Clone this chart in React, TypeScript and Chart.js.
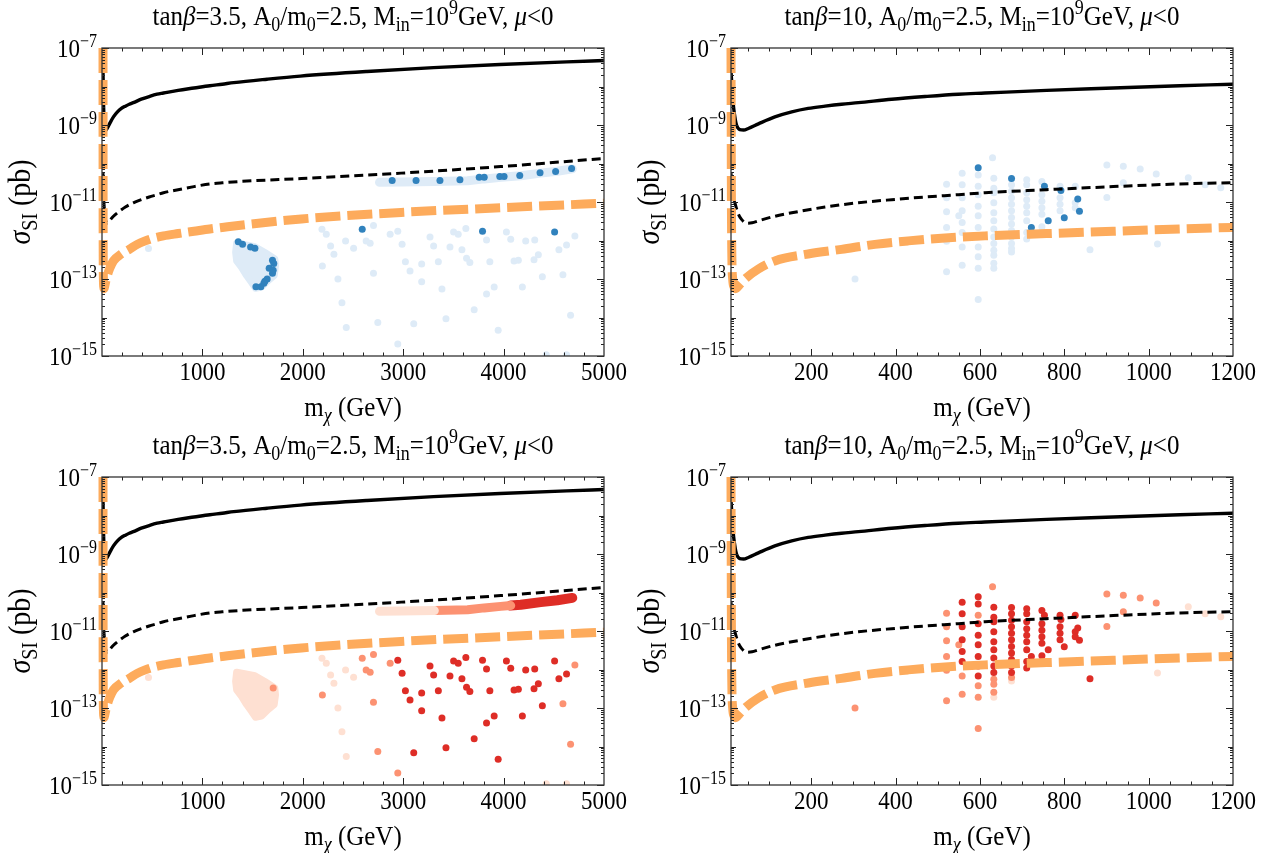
import React, { useEffect, useRef } from 'react';
import { Chart, registerables } from 'chart.js';

Chart.register(...registerables);

const SERIF = '"Liberation Serif", "Times New Roman", serif';
const TEXT_STRETCH = 1.13;

type Pt = [number, number];
// [mass (GeV), log10 sigma (pb), blue level (0 light, 1 dark), red level (0 pale, 1 medium, 2 dark)]
type ScanPt = [number, number, number, number];

// ---------- limit curves: [m_chi (GeV), log10 sigma_SI (pb)] ----------
const currentLimit: Pt[] = [
  [10, -7.62], [13, -8.1], [16, -8.53], [20, -8.85], [23, -9.0], [31, -9.12], [40, -9.13], [51, -9.09],
  [75, -8.97], [114, -8.79], [154, -8.66], [193, -8.57], [233, -8.51], [272, -8.46], [312, -8.42],
  [391, -8.33], [470, -8.26], [549, -8.2], [612, -8.17], [758, -8.1], [916, -8.04], [1074, -7.98],
  [1198, -7.94], [1312, -7.9], [1644, -7.81], [1975, -7.73], [2639, -7.61], [3302, -7.51], [3965, -7.43],
  [4629, -7.36], [5000, -7.325],
];

const projectedLimit: Pt[] = [
  [10, -10.25], [14, -10.8], [20, -11.05], [27, -11.3], [35, -11.45], [47, -11.55], [60, -11.54],
  [75, -11.49], [114, -11.37], [154, -11.28], [233, -11.13], [312, -11.02], [391, -10.94], [470, -10.87],
  [549, -10.81], [612, -10.76], [758, -10.68], [916, -10.6], [1074, -10.53], [1198, -10.5], [1490, -10.45],
  [1986, -10.39], [2979, -10.25], [3972, -10.08], [5000, -9.87],
];

const neutrinoFloor: Pt[] = [
  [10, -7.0], [10.5, -9], [11, -11], [12, -12.4], [14, -13.0], [17, -13.2], [21, -13.25], [30, -13.15],
  [43, -13.0], [75, -12.74], [114, -12.53], [193, -12.35], [272, -12.23], [351, -12.1], [430, -12.01],
  [509, -11.94], [612, -11.88], [758, -11.82], [916, -11.76], [1074, -11.7], [1198, -11.66], [1490, -11.57],
  [1986, -11.44], [2979, -11.27], [3972, -11.15], [5000, -11.03],
];

// ---------- tan(beta)=3.5 scan ----------
const bandA: Pt[] = [
  [2764, -10.49], [2979, -10.48], [3310, -10.47], [3641, -10.45], [3807, -10.4], [3972, -10.36],
  [4071, -10.34], [4171, -10.32], [4369, -10.25], [4535, -10.2], [4684, -10.14],
];
const bandARedBreaks = [3310, 4071];
const bandADark: Pt[] = [
  [2890, -10.44], [3128, -10.44], [3366, -10.44], [3565, -10.42], [3757, -10.36], [3807, -10.36],
  [3962, -10.34], [4005, -10.34], [4161, -10.31], [4363, -10.24], [4518, -10.21], [4677, -10.13],
];
const blobA: Pt[] = [
  [1341, -12.07], [1407, -12.1], [1523, -12.16], [1622, -12.31], [1721, -12.48], [1728, -12.66],
  [1715, -12.91], [1655, -13.04], [1589, -13.21], [1529, -13.24], [1490, -13.09], [1440, -12.91],
  [1390, -12.7], [1341, -12.53], [1331, -12.31], [1341, -12.07],
];
const blobADark: Pt[] = [
  [1357, -12.03], [1400, -12.1], [1480, -12.17], [1523, -12.2], [1698, -12.51], [1711, -12.6],
  [1665, -12.72], [1705, -12.77], [1698, -12.85], [1645, -13.0], [1622, -13.06], [1612, -13.11],
  [1582, -13.2], [1533, -13.2],
];
const blobARedMedium: Pt[] = [[1705, -12.48]];

const scanA: ScanPt[] = [
  [463, -12.21, 0, 0], [2191, -11.71, 0, 0], [2234, -11.84, 0, 0], [2277, -12.14, 0, 0], [2310, -12.36, 0, 0],
  [2195, -12.66, 0, 1], [2350, -13.0, 0, 0], [2390, -13.62, 0, 0], [2433, -14.26, 0, 0], [2426, -12.01, 0, 0],
  [2506, -12.2, 0, 0], [2592, -11.71, 1, 1], [2631, -12.01, 0, 1], [2671, -12.07, 0, 1], [2704, -11.61, 0, 1],
  [2704, -12.85, 0, 1], [2747, -14.13, 0, 1], [2870, -11.84, 0, 1], [2946, -11.76, 0, 2], [2989, -12.1, 0, 2],
  [2946, -14.69, 0, 1], [3022, -12.55, 0, 2], [3068, -12.79, 0, 2], [3105, -14.16, 0, 2], [3184, -12.61, 0, 2],
  [3184, -13.07, 0, 2], [3267, -11.91, 0, 2], [3303, -12.14, 0, 2], [3350, -12.55, 0, 2], [3386, -13.26, 0, 2],
  [3426, -14.03, 0, 2], [3466, -12.17, 0, 2], [3502, -11.78, 0, 2], [3548, -11.84, 0, 2], [3585, -12.24, 0, 2],
  [3624, -11.69, 0, 2], [3631, -12.46, 0, 2], [3664, -12.57, 0, 2], [3707, -13.8, 0, 2], [3790, -11.76, 1, 2],
  [3830, -11.99, 0, 2], [3830, -13.39, 0, 2], [3863, -12.55, 0, 2], [3906, -13.21, 0, 2], [3946, -14.33, 0, 2],
  [4028, -11.78, 0, 2], [4071, -11.97, 0, 2], [4104, -12.53, 0, 2], [4147, -12.51, 0, 2], [4187, -13.21, 0, 2],
  [4220, -12.01, 0, 2], [4310, -11.99, 0, 2], [4303, -12.5, 0, 2], [4346, -12.37, 0, 2], [4386, -12.94, 0, 2],
  [4508, -11.78, 1, 2], [4551, -12.24, 0, 2], [4591, -12.89, 0, 1], [4627, -12.12, 0, 2], [4667, -13.94, 0, 1],
  [4710, -11.88, 0, 1], [4425, -14.97, 0, 0], [4627, -14.97, 0, 0],
];

// ---------- tan(beta)=10 scan ----------
const scanB: ScanPt[] = [
  [521, -10.54, 0, 1], [521, -10.89, 0, 1], [521, -11.25, 0, 1], [521, -11.66, 0, 1], [521, -12.02, 0, 1], [521, -12.81, 0, 1],
  [558, -10.25, 0, 2], [558, -10.55, 0, 2], [558, -10.89, 0, 2], [558, -11.23, 0, 2], [558, -11.53, 0, 2], [558, -11.79, 0, 2],
  [550, -11.36, 0, 1], [558, -12.17, 0, 1], [558, -12.64, 0, 1],
  [596, -10.11, 1, 2], [596, -10.3, 0, 2], [596, -10.81, 0, 2], [596, -11.11, 0, 2], [596, -11.36, 0, 2], [596, -11.66, 0, 2],
  [596, -11.91, 0, 2], [596, -12.17, 0, 2], [596, -10.59, 0, 1], [596, -12.42, 0, 1], [596, -12.72, 0, 1], [596, -13.53, 0, 1],
  [630, -9.85, 0, 1], [633, -10.38, 0, 2], [633, -10.64, 0, 2], [633, -10.76, 0, 2], [633, -11.02, 0, 2], [633, -11.28, 0, 2],
  [633, -11.49, 0, 2], [633, -11.7, 0, 2], [633, -11.91, 0, 2], [633, -12.08, 0, 2], [633, -12.25, 0, 1], [633, -12.38, 0, 1],
  [633, -12.59, 0, 1], [633, -12.72, 0, 0],
  [675, -10.39, 1, 2], [675, -10.55, 0, 2], [675, -10.72, 0, 2], [675, -10.89, 0, 2], [675, -11.06, 0, 2], [675, -11.23, 0, 2],
  [675, -11.4, 0, 2], [675, -11.57, 0, 2], [675, -11.74, 0, 2], [675, -11.91, 0, 2], [675, -12.08, 0, 2], [675, -12.21, 0, 1],
  [675, -12.3, 0, 0],
  [711, -10.42, 0, 2], [711, -10.55, 0, 2], [711, -10.76, 0, 2], [711, -10.94, 0, 2], [711, -11.11, 0, 2], [711, -11.28, 0, 2],
  [711, -11.49, 0, 2], [722, -11.66, 1, 2], [711, -11.79, 0, 2], [711, -11.96, 0, 2],
  [747, -10.47, 0, 2], [753, -10.59, 1, 2], [747, -10.81, 0, 2], [747, -10.98, 0, 2], [747, -11.15, 0, 2], [747, -11.32, 0, 2],
  [762, -11.49, 1, 2], [747, -11.64, 0, 2],
  [790, -10.59, 0, 2], [792, -10.7, 1, 2], [790, -10.89, 0, 2], [790, -11.06, 0, 2], [790, -11.23, 0, 2], [800, -11.41, 1, 2],
  [826, -10.59, 0, 2], [832, -10.92, 1, 2], [826, -11.02, 0, 2], [836, -11.24, 1, 2], [826, -11.15, 0, 2],
  [304, -13.0, 0, 1], [861, -12.24, 0, 2], [901, -10.04, 0, 1], [901, -10.88, 0, 1], [940, -10.07, 0, 1], [940, -10.5, 0, 1],
  [980, -10.14, 0, 1], [1018, -10.27, 0, 1], [1021, -12.09, 0, 0], [1094, -10.37, 0, 0], [1134, -10.55, 0, 0], [1171, -10.63, 0, 0],
];

// ---------- axes ----------
const X_MAJOR_A = [1000, 2000, 3000, 4000, 5000];
const X_MAJOR_B = [200, 400, 600, 800, 1000, 1200];
const Y_LABEL_EXP = [-7, -9, -11, -13, -15];

const BLUE_LEVELS = ['#deebf7', '#3182bd'];
const RED_LEVELS = ['#fee0d2', '#fc9272', '#de2d26'];
const ORANGE = '#fdab5c';

type Part = { t: string; it?: boolean; sub?: boolean; sup?: boolean };

const titleFor = (tanb: string): Part[] => [
  { t: 'tan' }, { t: 'β', it: true }, { t: '=' + tanb + ', A' }, { t: '0', sub: true }, { t: '/m' },
  { t: '0', sub: true }, { t: '=2.5, M' }, { t: 'in', sub: true }, { t: '=10' }, { t: '9', sup: true },
  { t: 'GeV, ' }, { t: 'μ', it: true }, { t: '<0' },
];
const X_TITLE: Part[] = [{ t: 'm' }, { t: 'χ', it: true, sub: true }, { t: ' (GeV)' }];
const Y_TITLE: Part[] = [{ t: 'σ', it: true }, { t: 'SI', sub: true }, { t: ' (pb)' }];

function drawRich(ctx: CanvasRenderingContext2D, parts: Part[], x: number, y: number, size: number, align: string) {
  const fontFor = (p: Part) =>
    `${p.it ? 'italic ' : ''}${p.sub || p.sup ? Math.round(size * 0.7) : size}px ${SERIF}`;
  let w = 0;
  const ws = parts.map((p) => {
    ctx.font = fontFor(p);
    const m = ctx.measureText(p.t).width;
    w += m;
    return m;
  });
  let cx = align === 'center' ? -w / 2 : align === 'right' ? -w : 0;
  ctx.save();
  ctx.translate(x, y);
  ctx.scale(1, TEXT_STRETCH);
  ctx.textAlign = 'left';
  ctx.textBaseline = 'alphabetic';
  parts.forEach((p, i) => {
    ctx.font = fontFor(p);
    const dy = p.sub ? size * 0.22 : p.sup ? -size * 0.4 : 0;
    ctx.fillText(p.t, cx, dy);
    cx += ws[i];
  });
  ctx.restore();
}

type PanelCfg = {
  kind: 'A' | 'B';
  palette: 'blue' | 'red';
  left: number; top: number; w: number; h: number;
  pad: { left: number; right: number; top: number; bottom: number };
  xMin: number; xMax: number; xMajor: number[]; xMinorStep: number;
  title: Part[];
};

const toXY = (a: Pt[]) => a.map(([m, l]) => ({ x: m, y: Math.pow(10, l) }));

function buildDatasets(p: PanelCfg) {
  const levels = p.palette === 'blue' ? BLUE_LEVELS : RED_LEVELS;
  const ds: any[] = [];
  const line = (data: Pt[], color: string, width: number, dash: number[], order: number, extra: any = {}) => ({
    type: 'line', data: toXY(data), borderColor: color, backgroundColor: color, borderWidth: width,
    borderDash: dash, pointRadius: 0, pointHoverRadius: 0, fill: false, order,
    cubicInterpolationMode: 'monotone', ...extra,
  });
  const dots = (data: Pt[], color: string, order: number) => ({
    type: 'scatter', data: toXY(data), backgroundColor: color, borderWidth: 0,
    pointRadius: 3.5, pointHoverRadius: 3.5, order,
  });

  ds.push(line(neutrinoFloor, ORANGE, 9, [25, 7], 0, { clip: { left: 6, top: 0, right: 0, bottom: 0 } }));
  ds.push(line(projectedLimit, '#000', 3, [9, 5], 0));
  ds.push(line(currentLimit, '#000', 3.4, [], 0));

  const scan = p.kind === 'A' ? scanA : scanB;
  levels.forEach((c, i) => {
    const pts = scan.filter((s) => (p.palette === 'blue' ? s[2] : s[3]) === i).map((s) => [s[0], s[1]] as Pt);
    ds.push(dots(pts, c, levels.length - i));
  });

  if (p.kind === 'A') {
    const flat = { cubicInterpolationMode: 'default', tension: 0, borderCapStyle: 'round', borderJoinStyle: 'round' };
    if (p.palette === 'blue') {
      ds.push(line(bandA, levels[0], 9, [], 5, flat));
      ds.push(line(blobA, levels[0], 7, [], 5, { ...flat, fill: 'shape' }));
      ds.push(dots(bandADark, levels[1], 1));
      ds.push(dots(blobADark, levels[1], 1));
    } else {
      const [b1, b2] = bandARedBreaks;
      ds.push(line(bandA.filter((q) => q[0] <= b1), levels[0], 9, [], 5, flat));
      ds.push(line(bandA.filter((q) => q[0] >= b1 && q[0] <= b2), levels[1], 9, [], 5, flat));
      ds.push(line(bandA.filter((q) => q[0] >= b2), levels[2], 10, [], 5, flat));
      ds.push(line(blobA, levels[0], 7, [], 5, { ...flat, fill: 'shape' }));
      ds.push(dots(blobARedMedium, levels[1], 2));
    }
  }
  return ds;
}

function decor(p: PanelCfg) {
  return {
    id: 'decor' + p.kind + p.palette,
    afterDraw(chart: any) {
      const { ctx, chartArea: a, scales } = chart;
      const xs = scales.x;
      const ys = scales.y;
      ctx.save();
      ctx.strokeStyle = '#222';
      ctx.lineWidth = 1;
      const seg = (x1: number, y1: number, x2: number, y2: number) => {
        ctx.beginPath(); ctx.moveTo(x1, y1); ctx.lineTo(x2, y2); ctx.stroke();
      };
      // x ticks
      for (let v = p.xMinorStep; v < p.xMax; v += p.xMinorStep) {
        if (v < p.xMin) continue;
        const major = p.xMajor.includes(v);
        const len = major ? 7 : 3.5;
        const px = Math.round(xs.getPixelForValue(v)) + 0.5;
        seg(px, a.bottom, px, a.bottom - len);
        seg(px, a.top, px, a.top + len);
      }
      // y ticks
      for (let e = -15; e <= -7; e++) {
        const py = Math.round(ys.getPixelForValue(Math.pow(10, e))) + 0.5;
        const len = Y_LABEL_EXP.includes(e) ? 7 : 5;
        seg(a.left, py, a.left + len, py);
        seg(a.right, py, a.right - len, py);
        if (e < -7) {
          for (let k = 2; k <= 9; k++) {
            const pm = Math.round(ys.getPixelForValue(k * Math.pow(10, e))) + 0.5;
            seg(a.left, pm, a.left + 3, pm);
            seg(a.right, pm, a.right - 3, pm);
          }
        }
      }
      // frame
      ctx.strokeStyle = '#333';
      ctx.lineWidth = 1.3;
      ctx.strokeRect(a.left, a.top, a.right - a.left, a.bottom - a.top);

      ctx.fillStyle = '#000';
      // x labels
      p.xMajor.forEach((v) =>
        drawRich(ctx, [{ t: String(v) }], xs.getPixelForValue(v), a.bottom + 24, 23, 'center'),
      );
      // y labels
      Y_LABEL_EXP.forEach((e) => {
        const py = ys.getPixelForValue(Math.pow(10, e));
        drawRich(ctx, [{ t: '10' }, { t: '−' + String(-e), sup: true }], a.left - 5, py + 9, 23, 'right');
      });
      // titles
      const cx = (a.left + a.right) / 2;
      drawRich(ctx, X_TITLE, cx, a.bottom + 60, 25, 'center');
      drawRich(ctx, p.title, cx, a.top - 23, 25, 'center');
      ctx.translate(a.left - 72, (a.top + a.bottom) / 2);
      ctx.rotate(-Math.PI / 2);
      drawRich(ctx, Y_TITLE, 0, 0, 28, 'center');
      ctx.restore();
    },
  };
}

function Panel({ p }: { p: PanelCfg }) {
  const ref = useRef<HTMLCanvasElement>(null);
  useEffect(() => {
    const canvas = ref.current;
    if (!canvas) return;
    const chart = new Chart(canvas, {
      type: 'scatter',
      data: { datasets: buildDatasets(p) },
      options: {
        animation: false,
        responsive: false,
        maintainAspectRatio: false,
        devicePixelRatio: 1,
        events: [],
        layout: { padding: p.pad },
        plugins: { legend: { display: false }, tooltip: { enabled: false }, title: { display: false } },
        scales: {
          x: { type: 'linear', min: p.xMin, max: p.xMax, display: false },
          y: { type: 'logarithmic', min: 1e-15, max: 1e-7, display: false },
        },
      },
      plugins: [decor(p)],
    } as any);
    return () => chart.destroy();
  }, [p]);
  return (
    <canvas
      ref={ref}
      width={p.w}
      height={p.h}
      style={{ position: 'absolute', left: p.left, top: p.top, width: p.w, height: p.h }}
    />
  );
}

const PANELS: PanelCfg[] = [
  {
    kind: 'A', palette: 'blue', left: 0, top: 0, w: 637, h: 426,
    pad: { left: 102, right: 33, top: 48, bottom: 70 },
    xMin: 0, xMax: 5000, xMajor: X_MAJOR_A, xMinorStep: 200, title: titleFor('3.5'),
  },
  {
    kind: 'B', palette: 'blue', left: 637, top: 0, w: 636, h: 426,
    pad: { left: 94, right: 40, top: 48, bottom: 70 },
    xMin: 10, xMax: 1200, xMajor: X_MAJOR_B, xMinorStep: 50, title: titleFor('10'),
  },
  {
    kind: 'A', palette: 'red', left: 0, top: 426, w: 637, h: 427,
    pad: { left: 102, right: 33, top: 51, bottom: 68 },
    xMin: 0, xMax: 5000, xMajor: X_MAJOR_A, xMinorStep: 200, title: titleFor('3.5'),
  },
  {
    kind: 'B', palette: 'red', left: 637, top: 426, w: 636, h: 427,
    pad: { left: 94, right: 40, top: 51, bottom: 68 },
    xMin: 10, xMax: 1200, xMajor: X_MAJOR_B, xMinorStep: 50, title: titleFor('10'),
  },
];

export default function App() {
  return (
    <div style={{ position: 'absolute', left: 0, top: 0, width: 1273, height: 853, background: '#fff' }}>
      {PANELS.map((p, i) => (
        <Panel key={i} p={p} />
      ))}
    </div>
  );
}
